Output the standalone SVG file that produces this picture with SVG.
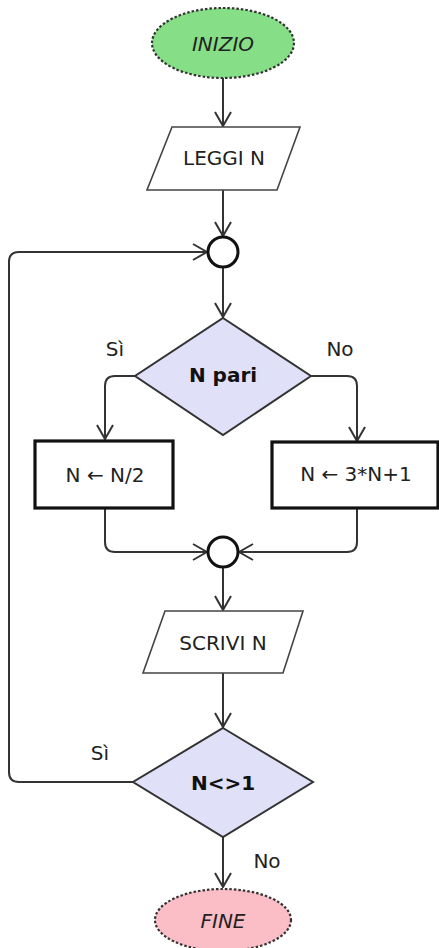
<svg xmlns="http://www.w3.org/2000/svg" width="439" height="948" viewBox="0 0 439 948">
<style>
.t{font-family:"DejaVu Sans",sans-serif;font-size:20px;fill:#222;text-anchor:middle}
.b{font-weight:bold;fill:#111}
.i{font-style:italic}
.e{stroke:#333;stroke-width:2;fill:none}
.term{stroke:#333;stroke-width:2.2;stroke-dasharray:2.5 2}
.io{fill:#fff;stroke:#444;stroke-width:1.6}
.proc{fill:#fff;stroke:#111;stroke-width:3.2}
.dec{fill:#e0e0f8;stroke:#333;stroke-width:2}
.jn{fill:#fff;stroke:#111;stroke-width:3}
</style>
<defs>
<marker id="arr" viewBox="0 0 16 18" refX="15" refY="9" markerWidth="16" markerHeight="18" markerUnits="userSpaceOnUse" orient="auto">
<path d="M1,1 L15,9 L1,17" fill="none" stroke="#333" stroke-width="2"/>
</marker>
</defs>
<rect width="439" height="948" fill="#fff"/>
<g id="connectors">
<path class="e" d="M223,78 V126" marker-end="url(#arr)"/>
<path class="e" d="M223,190 V236" marker-end="url(#arr)"/>
<path class="e" d="M223,267 V317" marker-end="url(#arr)"/>
<path class="e" d="M135,376 H115 Q105,376 105,386 V439" marker-end="url(#arr)"/>
<path class="e" d="M311,376 H347 Q357,376 357,386 V441" marker-end="url(#arr)"/>
<path class="e" d="M105,508 V542 Q105,552 115,552 H207" marker-end="url(#arr)"/>
<path class="e" d="M357,508 V542 Q357,552 347,552 H239" marker-end="url(#arr)"/>
<path class="e" d="M223,567 V610" marker-end="url(#arr)"/>
<path class="e" d="M223,673 V727" marker-end="url(#arr)"/>
<path class="e" d="M133,782 H19 Q9,782 9,772 V262 Q9,252 19,252 H207" marker-end="url(#arr)"/>
<path class="e" d="M223,837 V887" marker-end="url(#arr)"/>
<text class="t" x="115" y="356">Sì</text>
<text class="t" x="340" y="356">No</text>
<text class="t" x="100" y="760">Sì</text>
<text class="t" x="267" y="868">No</text>
</g>
<g id="inizio">
<ellipse class="term" cx="223" cy="43" rx="71" ry="35" fill="#86df86"/>
<text class="t i" x="223" y="51">INIZIO</text>
</g>
<g id="leggi">
<polygon class="io" points="172,127 300,127 277,190 147,190"/>
<text class="t" x="224" y="165">LEGGI N</text>
</g>
<g id="join1">
<circle class="jn" cx="223" cy="252" r="15"/>
</g>
<g id="npari">
<polygon class="dec" points="223,318 311,376 223,435 135,376"/>
<text class="t b" x="223" y="382">N pari</text>
</g>
<g id="half">
<rect class="proc" x="35" y="441" width="138" height="67"/>
<text class="t" x="105" y="482">N ← N/2</text>
</g>
<g id="triple">
<rect class="proc" x="272" y="442" width="166" height="66"/>
<text class="t" x="356" y="481">N ← 3*N+1</text>
</g>
<g id="join2">
<circle class="jn" cx="223" cy="552" r="15"/>
</g>
<g id="scrivi">
<polygon class="io" points="165,611 303,611 283,673 143,673"/>
<text class="t" x="223" y="650">SCRIVI N</text>
</g>
<g id="nne1">
<polygon class="dec" points="223,728 313,782 223,837 133,782"/>
<text class="t b" x="223" y="790">N&lt;&gt;1</text>
</g>
<g id="fine">
<ellipse class="term" cx="223" cy="920" rx="68" ry="31" fill="#fbbdc6"/>
<text class="t i" x="223" y="928">FINE</text>
</g>
</svg>
